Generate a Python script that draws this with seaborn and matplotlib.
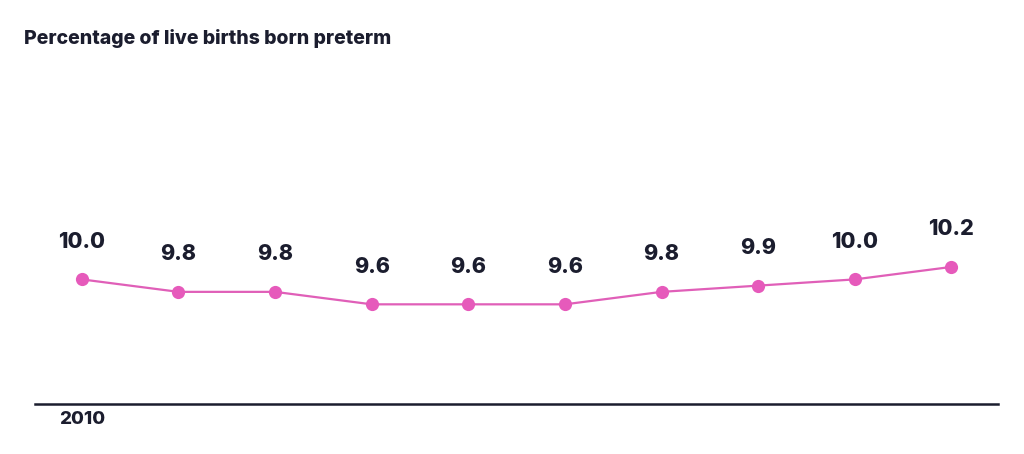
import numpy as np
import pandas as pd
import matplotlib
matplotlib.use("Agg")
import matplotlib.pyplot as plt
import seaborn as sns

years = [2010, 2011, 2012, 2013, 2014, 2015, 2016, 2017, 2018, 2019]
preterm_pct = [10.0, 9.8, 9.8, 9.6, 9.6, 9.6, 9.8, 9.9, 10.0, 10.2]
value_labels = ["10.0", "9.8", "9.8", "9.6", "9.6", "9.6", "9.8", "9.9", "10.0", "10.2"]
first_year_label = "2010"
title = "Percentage of live births born preterm"

df = pd.DataFrame({"year": years, "pct": preterm_pct})

sns.set_style("white")
plt.rcParams["font.family"] = ["Inter", "DejaVu Sans"]

ink = "#1b1d2e"
pink = "#e05fb8"

fig = plt.figure(figsize=(10.24, 4.54), dpi=100)
ax = fig.add_axes([0.034, 0.110, 0.941, 0.67])

sns.lineplot(data=df, x="year", y="pct", ax=ax, color=pink, linewidth=1.6,
             marker="o", markersize=9.5, markeredgewidth=0, markerfacecolor="#e65abb")

for x, y, lab in zip(years, preterm_pct, value_labels):
    ax.annotate(lab, (x, y), xytext=(0, 27), textcoords="offset points",
                ha="center", va="center", fontsize=15.5, fontweight=800, color=ink)

ax.set_xlim(2009.513, 2019.487)
ax.set_ylim(8.0, 12.88)
ax.set_xticks([])
ax.set_yticks([])
ax.set_xlabel("")
ax.set_ylabel("")
for side in ["top", "right", "left"]:
    ax.spines[side].set_visible(False)
ax.spines["bottom"].set_color(ink)
ax.spines["bottom"].set_linewidth(1.8)

ax.annotate(first_year_label, (years[0], 8.0), xytext=(0, -5), textcoords="offset points",
            ha="center", va="top", fontsize=13.5, fontweight=800, color=ink)

fig.text(0.0235, 0.915, title, ha="left", va="center", fontsize=14,
         fontweight=800, color=ink)

fig.savefig("out.png", dpi=100, facecolor="white")
